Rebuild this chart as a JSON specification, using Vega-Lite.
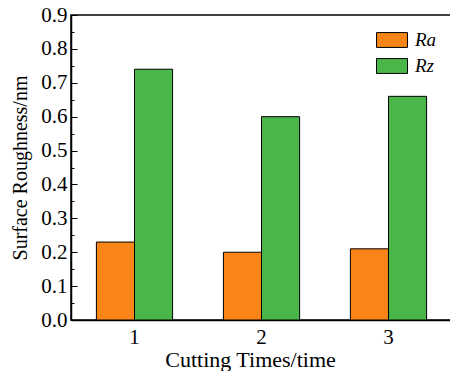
{
  "$schema": "https://vega.github.io/schema/vega-lite/v6.json",
  "width": 381,
  "height": 305,
  "autosize": {"type": "none"},
  "padding": {"left": 71, "top": 15, "right": 0, "bottom": 51},
  "background": "white",
  "config": {
    "font": "Liberation Serif",
    "axis": {"labelFont": "Liberation Serif", "titleFont": "Liberation Serif"},
    "legend": {"labelFont": "Liberation Serif"},
    "view": {"stroke": "black", "strokeWidth": 1.5}
  },
  "data": {
    "values": [
      {"time": "1", "series": "Ra", "value": 0.23},
      {"time": "1", "series": "Rz", "value": 0.74},
      {"time": "2", "series": "Ra", "value": 0.20},
      {"time": "2", "series": "Rz", "value": 0.60},
      {"time": "3", "series": "Ra", "value": 0.21},
      {"time": "3", "series": "Rz", "value": 0.66}
    ]
  },
  "mark": {"type": "bar", "stroke": "black", "strokeWidth": 1},
  "encoding": {
    "x": {
      "field": "time",
      "type": "ordinal",
      "scale": {"paddingInner": 0.4, "paddingOuter": 0.2},
      "axis": {
        "title": "Cutting Times/time",
        "titleFontSize": 22,
        "titleFontWeight": "normal",
        "titleColor": "black",
        "titlePadding": 2,
        "titleX": 179,
        "labelAngle": 0,
        "labelFontSize": 21,
        "labelColor": "black",
        "labelPadding": 6,
        "ticks": false,
        "domainColor": "black",
        "domainWidth": 1.5
      }
    },
    "xOffset": {"field": "series", "type": "nominal", "scale": {"paddingInner": 0, "paddingOuter": 0}},
    "y": {
      "field": "value",
      "type": "quantitative",
      "scale": {"domain": [0, 0.9], "nice": false},
      "axis": {
        "title": "Surface Roughness/nm",
        "titleFontSize": 20,
        "titleFontWeight": "normal",
        "titleColor": "black",
        "titlePadding": 10,
        "values": [0, 0.05, 0.1, 0.15, 0.2, 0.25, 0.3, 0.35, 0.4, 0.45, 0.5, 0.55, 0.6, 0.65, 0.7, 0.75, 0.8, 0.85, 0.9],
        "labelExpr": "round(datum.value*100) % 10 === 0 ? format(datum.value, '.1f') : ''",
        "labelFontSize": 21,
        "labelColor": "black",
        "labelPadding": 10,
        "tickSize": {"condition": {"test": "round(datum.value*100) % 10 === 0", "value": -6}, "value": -3},
        "tickColor": "black",
        "tickWidth": 1,
        "grid": false,
        "domainColor": "black",
        "domainWidth": 1.5
      }
    },
    "color": {
      "field": "series",
      "type": "nominal",
      "scale": {"domain": ["Ra", "Rz"], "range": ["#F98518", "#4AB64A"]},
      "legend": {
        "title": null,
        "orient": "none",
        "legendX": 305,
        "legendY": 9,
        "symbolType": "M-1,-0.48L1,-0.48L1,0.48L-1,0.48Z",
        "symbolSize": 961,
        "symbolStrokeColor": "black",
        "symbolStrokeWidth": 1,
        "symbolOpacity": 1,
        "labelFontSize": 19,
        "labelFontStyle": "italic",
        "labelColor": "black",
        "labelOffset": 7,
        "rowPadding": -8,
        "padding": 0
      }
    }
  }
}
